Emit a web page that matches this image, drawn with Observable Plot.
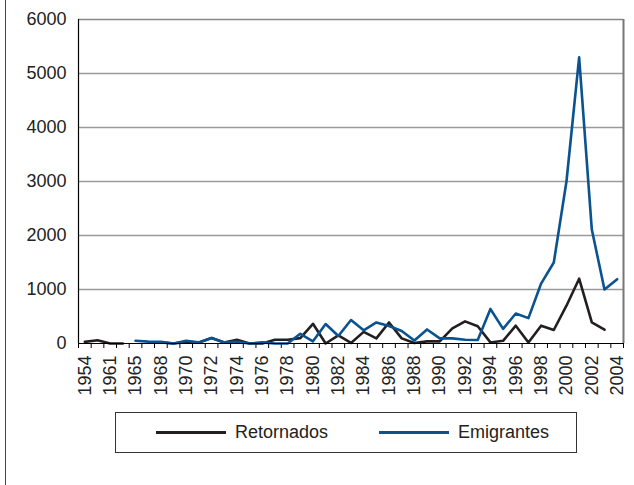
<!DOCTYPE html>
<html><head><meta charset="utf-8">
<script src="https://cdn.jsdelivr.net/npm/d3@7"></script>
<script src="https://cdn.jsdelivr.net/npm/@observablehq/plot@0.6"></script>
<style>
body{margin:0;background:#fff;font-family:"Liberation Sans",Arial,sans-serif;}
#wrap{position:relative;width:634px;height:485px;overflow:hidden;background:#fff;}
#border{position:absolute;left:5px;top:0;width:1px;height:485px;background:#444;z-index:2;}
#chart{position:absolute;left:0;top:0;}
#legend{position:absolute;left:115px;top:412px;width:462px;height:41px;border:1.5px solid #333;box-sizing:border-box;font-size:18px;color:#222;}
.item{position:absolute;top:0;height:38px;display:flex;align-items:center;}
.sw{display:inline-block;width:70px;height:3px;margin-right:9px;}
</style>
</head><body>
<div id="wrap"><div id="border"></div><div id="chart"></div>
<div id="legend">
 <div class="item" style="left:40px"><span class="sw" style="background:#231f20"></span><span>Retornados</span></div>
 <div class="item" style="left:263px"><span class="sw" style="background:#0a5290"></span><span>Emigrantes</span></div>
</div></div>
<script>
const categories = ["1954","1958","1961","1963","1965","1966","1968","1969",
 "1970","1971","1972","1973","1974","1975","1976","1977","1978","1979",
 "1980","1981","1982","1983","1984","1985","1986","1987","1988","1989",
 "1990","1991","1992","1993","1994","1995","1996","1997","1998","1999",
 "2000","2001","2002","2003","2004"];
const retornados = [30,60,0,0,null,null,20,0,
 30,20,100,20,70,0,0,70,70,100,
 365,0,150,10,215,95,390,95,10,40,
 40,280,410,320,20,50,330,20,330,250,
 700,1200,390,255,null];
const emigrantes = [null,null,null,null,50,35,30,0,
 50,20,100,20,30,0,20,0,0,180,
 40,360,140,435,245,390,325,230,55,260,
 95,95,70,65,640,270,555,470,1110,1500,
 3000,5300,2110,1000,1190];
const yTicks = [0,1000,2000,3000,4000,5000,6000];

const n = categories.length;
const ret = retornados.map((v,i)=>({x:i+0.5, v}));
const emi = emigrantes.map((v,i)=>({x:i+0.5, v}));
const labelPos = d3.range(0, n, 2).map(i => i + 0.5);

const chart = Plot.plot({
  width: 634, height: 405,
  marginLeft: 78, marginRight: 11, marginTop: 19, marginBottom: 62,
  style: {fontFamily: "Liberation Sans, Arial, sans-serif", fontSize: "18px", color: "#222", background: "#fff"},
  x: {type: "linear", domain: [0, n], label: null},
  y: {domain: [0, 6000], label: null},
  marks: [
    Plot.gridY(yTicks.slice(1, -1), {stroke: "#9a9a9a", strokeOpacity: 1, strokeWidth: 1.3}),
    Plot.ruleY([6000], {stroke: "#888", strokeWidth: 1.3}),
    Plot.ruleX([n], {stroke: "#777", strokeWidth: 2}),
    Plot.axisY(yTicks, {tickSize: 0, tickPadding: 12, tickFormat: d => String(d), fontSize: 18, label: null}),
    Plot.axisX(d3.range(n + 1), {tickSize: 5, tickFormat: () => "", stroke: "#000", label: null}),
    Plot.axisX(labelPos, {tickSize: 0, tickPadding: 12, tickRotate: -90, fontSize: 18, label: null,
      tickFormat: d => categories[Math.round(d - 0.5)]}),
    Plot.lineY(ret, {x: "x", y: "v", stroke: "#231f20", strokeWidth: 2.6}),
    Plot.lineY(emi, {x: "x", y: "v", stroke: "#0a5290", strokeWidth: 2.6}),
    Plot.ruleX([0], {stroke: "#000", strokeWidth: 1.2}),
    Plot.ruleY([0], {stroke: "#000", strokeWidth: 1.2})
  ]
});
document.getElementById("chart").appendChild(chart);
</script>
</body></html>
